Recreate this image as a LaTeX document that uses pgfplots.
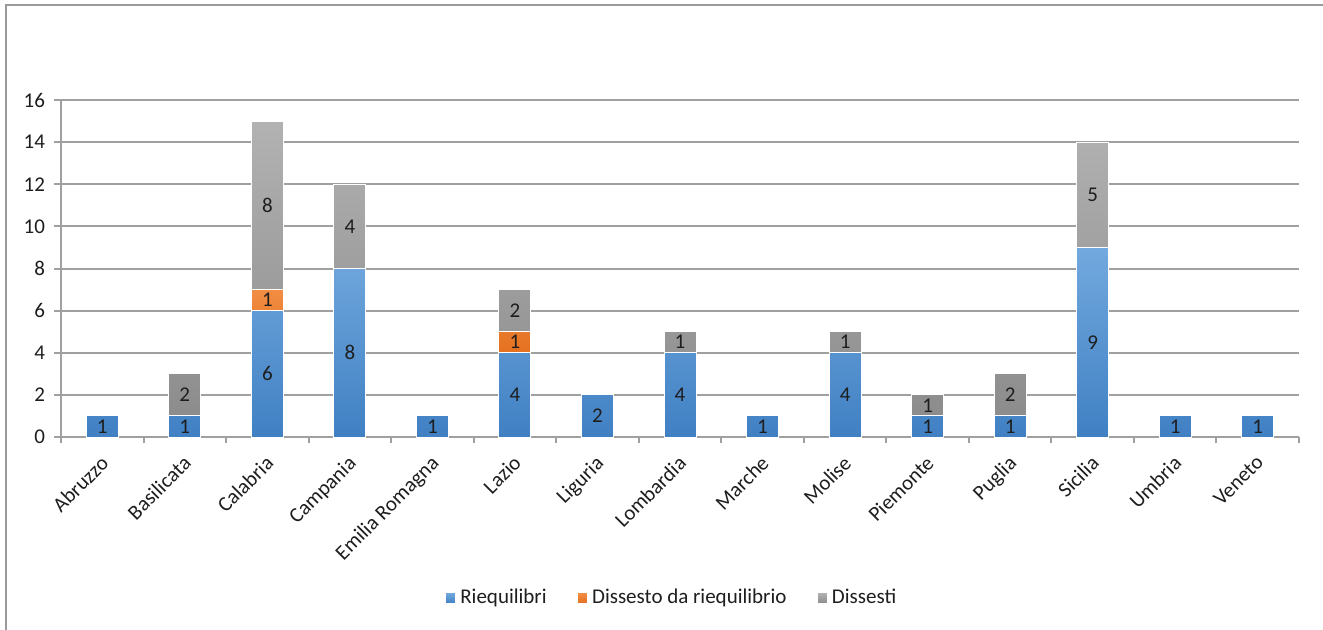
\documentclass[border=0pt]{standalone}
\usepackage{pgfplots}
\pgfplotsset{compat=1.18}
\usepackage{fontspec}
\setmainfont{Carlito}

\definecolor{blueTop}{HTML}{72A9DE}
\definecolor{blueBot}{HTML}{4080C3}
\definecolor{orangeTop}{HTML}{F28E44}
\definecolor{orangeBot}{HTML}{E3701F}
\definecolor{grayTop}{HTML}{B2B2B2}
\definecolor{grayBot}{HTML}{8C8C8C}
\definecolor{gridgray}{HTML}{A0A0A0}
\definecolor{framegray}{HTML}{9A9A9A}
\definecolor{txt}{HTML}{1E1E1E}

\pgfplotstableread{
x  riequ dissr diss
0  1 0 0
1  1 0 2
2  6 1 8
3  8 0 4
4  1 0 0
5  4 1 2
6  2 0 0
7  4 0 1
8  1 0 0
9  4 0 1
10 1 0 1
11 1 0 2
12 9 0 5
13 1 0 0
14 1 0 0
}\datatable

\begin{document}
\begin{tikzpicture}
\useasboundingbox (0pt,0pt) rectangle (661.5pt,314.5pt);
\fill[white] (0pt,0pt) rectangle (661.5pt,314.5pt);
\draw[framegray, line width=1pt] (3pt,-5pt) -- (3pt,312pt) -- (670pt,312pt);
\begin{axis}[
  at={(30.5pt,96pt)}, anchor=south west,
  scale only axis, width=619pt, height=168.5pt,
  ybar stacked, bar width=16pt,
  xmin=-0.5, xmax=14.5, ymin=0, ymax=16,
  ytick={0,2,...,16},
  xtick={0,...,14},
  xticklabels={Abruzzo,Basilicata,Calabria,Campania,Emilia Romagna,Lazio,Liguria,Lombardia,Marche,Molise,Piemonte,Puglia,Sicilia,Umbria,Veneto},
  minor xtick={-0.5,0.5,...,14.5},
  major x tick style={draw=none},
  minor x tick style={gridgray, line width=1pt},
  y tick style={gridgray, line width=1pt},
  major tick length=3.5pt, minor tick length=3pt,
  tick align=outside,
  axis x line*=bottom, axis y line*=left,
  axis line style={-, gridgray, line width=1pt},
  ymajorgrids, grid style={gridgray, line width=1pt},
  /pgf/number format/assume math mode=true,
  ticklabel style={font=\fontsize{10.5}{12}\selectfont, text=txt},
  yticklabel style={xshift=-1pt},
  xticklabel style={rotate=45, anchor=north east, inner sep=1pt, yshift=-1.5pt, xshift=-3.5pt},
  legend style={at={(0.494,-0.478)}, anchor=center, legend columns=-1, draw=none, fill=none,
    font=\fontsize{10.5}{12}\selectfont, text=txt,
    /tikz/every even column/.append style={column sep=13pt}},
  legend image code/.code={\fill[#1] (0pt,-2.6pt) rectangle (5.2pt,2.6pt);},
  nodes near coords={\pgfmathfloatifflags{\pgfplotspointmeta}{0}{}{\pgfmathprintnumber{\pgfplotspointmeta}}},
  point meta=explicit,
  every node near coord/.append style={anchor=center, font=\fontsize{10.5}{12}\selectfont, text=txt},
]
\addplot[draw=white, line width=0.5pt, top color=blueTop, bottom color=blueBot]
  table[x=x, y=riequ, meta=riequ] {\datatable};
\addplot[draw=white, line width=0.5pt, top color=orangeTop, bottom color=orangeBot]
  table[x=x, y=dissr, meta=dissr] {\datatable};
\addplot[draw=white, line width=0.5pt, top color=grayTop, bottom color=grayBot]
  table[x=x, y=diss, meta=diss] {\datatable};
\legend{Riequilibri, Dissesto da riequilibrio, Dissesti}
\end{axis}
\end{tikzpicture}
\end{document}
